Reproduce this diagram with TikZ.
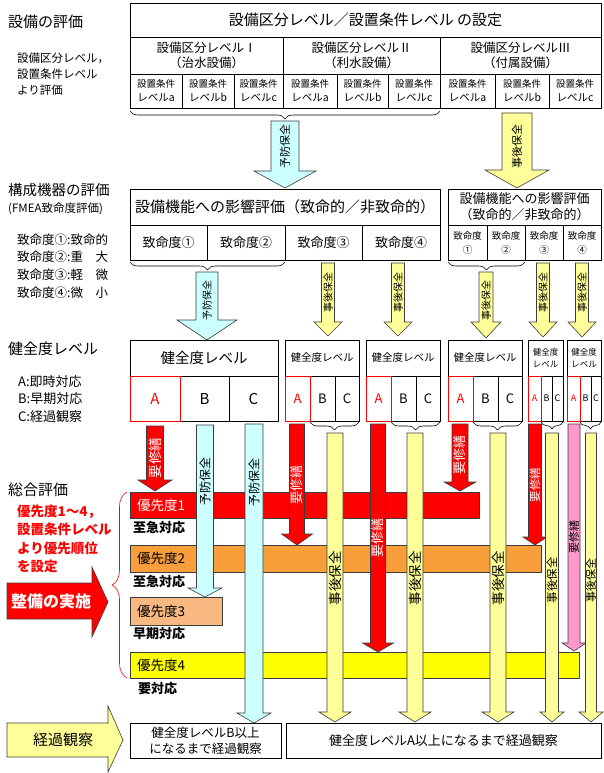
\documentclass[tikz,border=0pt]{standalone}
\usepackage{fontspec}
\setmainfont{Noto Sans CJK JP}
\usetikzlibrary{decorations.pathreplacing}
\definecolor{cyanL}{RGB}{204,255,255}
\definecolor{yelL}{RGB}{255,255,153}
\definecolor{redA}{RGB}{255,0,0}
\definecolor{orgB}{RGB}{248,158,58}
\definecolor{salC}{RGB}{247,184,130}
\definecolor{yelD}{RGB}{255,255,0}
\definecolor{pinkE}{RGB}{255,153,204}
\definecolor{edgeC}{RGB}{60,60,60}
\newcommand\fsz[2]{\fontsize{#1}{#2}\selectfont}
% #1 name, #2 style, #3 cx, #4 top, #5 head start, #6 tip, #7 half shaft, #8 half head
\newcommand\DArrow[8]{%
  \draw[#2] (#3-#7,#4) -- (#3+#7,#4) -- (#3+#7,#5) -- (#3+#8,#5) -- (#3,#6)
    -- (#3-#8,#5) -- (#3-#7,#5) -- cycle;
  \coordinate (#1) at (#3,#6);}
% [opts]{name}{x1}{y1}{x2}{y2}{text}
\newcommand\cell[7][]{%
  \node[cellst,#1,minimum width={#5-#3},minimum height={#6-#4}] (#2)
    at ({(#3+#5)/2},{(#4+#6)/2}) {#7};}
\begin{document}
\begin{tikzpicture}[x=1pt,y=-1pt,
  cellst/.style={draw=black,line width=0.6pt,inner sep=0pt,outer sep=0pt,align=center,fill=white},
  lab/.style={anchor=west,inner sep=0pt,align=left},
  vlab/.style={rotate=90,inner sep=0pt},
  brc/.style={draw=black,line width=0.6pt,decorate,decoration={brace,amplitude=8pt,mirror}},
  cyst/.style={fill=cyanL,draw=edgeC,line width=0.6pt},
  yest/.style={fill=yelL,draw=edgeC,line width=0.6pt},
  redst/.style={fill=redA,draw=edgeC,line width=0.6pt},
  pkst/.style={fill=pinkE,draw=edgeC,line width=0.6pt},
  barst/.style={draw=edgeC,line width=0.6pt}]
\useasboundingbox (0,0) rectangle (603,773);

% ---------- left labels ----------
\node[lab,font=\fsz{15}{18}] (L1) at (8,22) {設備の評価};
\node[lab,font=\fsz{11.5}{16}] (L1a) at (17,74) {設備区分レベル，\\設置条件レベル\\より評価};
\node[lab,font=\fsz{14.5}{17}] (L2) at (8,190) {構成機器の評価};
\node[lab,font=\fsz{11.5}{14}] (L2a) at (8,209) {(FMEA致命度評価)};
\node[lab,font=\fsz{12.5}{15}] (L2b) at (17,240) {致命度①:致命的};
\node[lab,font=\fsz{12.5}{15}] (L2c) at (17,257) {致命度②:重　大};
\node[lab,font=\fsz{12.5}{15}] (L2d) at (17,275) {致命度③:軽　微};
\node[lab,font=\fsz{12.5}{15}] (L2e) at (17,293) {致命度④:微　小};
\node[lab,font=\fsz{15}{18}] (L3) at (8,349) {健全度レベル};
\node[lab,font=\fsz{13}{15}] (L3a) at (18,382) {A:即時対応};
\node[lab,font=\fsz{13}{15}] (L3b) at (18,399) {B:早期対応};
\node[lab,font=\fsz{13}{15}] (L3c) at (18,417) {C:経過観察};
\node[lab,font=\fsz{15}{18}] (L4) at (8,490) {総合評価};
\node[lab,font=\bfseries\fsz{13.5}{18.5},text=redA] (L4a) at (17,539) {優先度1～4，\\設置条件レベル\\より優先順位\\を設定};

% ---------- top table ----------
\cell[font=\fsz{15}{18}]{T0}{130}{3}{601}{37}{設備区分レベル／設置条件レベル\ の設定}
\cell[font=\fsz{12.5}{15.5}]{T1}{130}{37}{283}{74}{設備区分レベルⅠ\\（治水設備）}
\cell[font=\fsz{12.5}{15.5}]{T2}{283}{37}{440}{74}{設備区分レベルⅡ\\（利水設備）}
\cell[font=\fsz{12.5}{15.5}]{T3}{440}{37}{601}{74}{設備区分レベルⅢ\\（付属設備）}
\cell[font=\fsz{10.5}{14}]{S1}{130}{74}{182}{108}{{\fsz{9.5}{14}設置条件}\\レベルa}
\cell[font=\fsz{10.5}{14}]{S2}{182}{74}{234}{108}{{\fsz{9.5}{14}設置条件}\\レベルb}
\cell[font=\fsz{10.5}{14}]{S3}{234}{74}{283}{108}{{\fsz{9.5}{14}設置条件}\\レベルc}
\cell[font=\fsz{10.5}{14}]{S4}{283}{74}{337}{108}{{\fsz{9.5}{14}設置条件}\\レベルa}
\cell[font=\fsz{10.5}{14}]{S5}{337}{74}{388}{108}{{\fsz{9.5}{14}設置条件}\\レベルb}
\cell[font=\fsz{10.5}{14}]{S6}{388}{74}{440}{108}{{\fsz{9.5}{14}設置条件}\\レベルc}
\cell[font=\fsz{10.5}{14}]{S7}{440}{74}{495}{108}{{\fsz{9.5}{14}設置条件}\\レベルa}
\cell[font=\fsz{10.5}{14}]{S8}{495}{74}{549}{108}{{\fsz{9.5}{14}設置条件}\\レベルb}
\cell[font=\fsz{10.5}{14}]{S9}{549}{74}{601}{108}{{\fsz{9.5}{14}設置条件}\\レベルc}
\draw[brc] (S1.south west) ++(0,3) coordinate (br1a) -- (S6.south east |- br1a);

\DArrow{A1}{cyst}{285}{121}{171}{188}{14}{31}
\node[vlab,font=\fsz{11}{12}] (A1t) at (285,146) {予防保全};
\DArrow{A2}{yest}{517}{113}{170}{188}{15}{32}
\node[vlab,font=\fsz{11}{12}] (A2t) at (517,146) {事後保全};

% ---------- FMEA table ----------
\cell[font=\fsz{15}{18}]{M0}{130}{189}{440}{225}{設備機能への影響評価（致命的／非致命的）}
\cell[font=\fsz{13}{15}]{M1}{130}{225}{207}{260}{致命度①}
\cell[font=\fsz{13}{15}]{M2}{207}{225}{285}{260}{致命度②}
\cell[font=\fsz{13}{15}]{M3}{285}{225}{362}{260}{致命度③}
\cell[font=\fsz{13}{15}]{M4}{362}{225}{440}{260}{致命度④}
\cell[font=\fsz{13}{16}]{N0}{448}{189}{601}{225}{設備機能への影響評価\\（致命的／非致命的）}
\cell[font=\fsz{9.5}{14}]{N1}{448}{225}{487}{260}{致命度\\①}
\cell[font=\fsz{9.5}{14}]{N2}{487}{225}{525}{260}{致命度\\②}
\cell[font=\fsz{9.5}{14}]{N3}{525}{225}{563}{260}{致命度\\③}
\cell[font=\fsz{9.5}{14}]{N4}{563}{225}{601}{260}{致命度\\④}
\draw[brc] (130,262) -- (285,262);
\draw[brc] (448,262) -- (525,262);

\DArrow{A3}{cyst}{207}{272}{320}{340}{11}{30}
\node[vlab,font=\fsz{10}{11}] (A3t) at (207,300) {予防保全};
\DArrow{A4}{yest}{328}{263}{322}{336}{6.5}{14}
\node[vlab,font=\fsz{10}{11}] (A4t) at (328,292) {事後保全};
\DArrow{A5}{yest}{398}{263}{322}{336}{6.5}{14}
\node[vlab,font=\fsz{10}{11}] (A5t) at (398,292) {事後保全};
\DArrow{A6}{yest}{486}{272}{322}{338}{7}{15}
\node[vlab,font=\fsz{10}{11}] (A6t) at (486,300) {事後保全};
\DArrow{A7}{yest}{543}{263}{322}{337}{6.5}{14}
\node[vlab,font=\fsz{10}{11}] (A7t) at (543,292) {事後保全};
\DArrow{A8}{yest}{582}{263}{322}{337}{6.5}{14}
\node[vlab,font=\fsz{10}{11}] (A8t) at (582,292) {事後保全};

% ---------- health level boxes ----------
\cell[font=\fsz{14.5}{17}]{H1}{130}{340}{278}{376}{健全度レベル}
\cell[font=\fsz{15}{17}]{H1b}{180}{376}{229}{421}{B}
\cell[font=\fsz{15}{17}]{H1c}{229}{376}{278}{421}{C}
\cell[font=\fsz{15}{17},draw=redA,text=redA]{H1a}{130}{376}{180}{421}{A}

\cell[font=\fsz{10.5}{13}]{H2}{285}{340}{359}{376}{健全度レベル}
\cell[font=\fsz{13}{15}]{H2b}{310}{376}{335}{421}{B}
\cell[font=\fsz{13}{15}]{H2c}{335}{376}{359}{421}{C}
\cell[font=\fsz{13}{15},draw=redA,text=redA]{H2a}{285}{376}{310}{421}{A}

\cell[font=\fsz{10.5}{13}]{H3}{366}{340}{440}{376}{健全度レベル}
\cell[font=\fsz{13}{15}]{H3b}{391}{376}{416}{421}{B}
\cell[font=\fsz{13}{15}]{H3c}{416}{376}{440}{421}{C}
\cell[font=\fsz{13}{15},draw=redA,text=redA]{H3a}{366}{376}{391}{421}{A}

\cell[font=\fsz{10.5}{13}]{H4}{448}{340}{522}{376}{健全度レベル}
\cell[font=\fsz{13}{15}]{H4b}{473}{376}{498}{421}{B}
\cell[font=\fsz{13}{15}]{H4c}{498}{376}{522}{421}{C}
\cell[font=\fsz{13}{15},draw=redA,text=redA]{H4a}{448}{376}{473}{421}{A}

\cell[font=\fsz{8.5}{11.5}]{H5}{528}{340}{563}{376}{健全度\\レベル}
\cell[font=\fsz{9}{11}]{H5b}{541}{376}{552}{421}{B}
\cell[font=\fsz{9}{11}]{H5c}{552}{376}{563}{421}{C}
\cell[font=\fsz{9}{11},draw=redA,text=redA]{H5a}{528}{376}{541}{421}{A}

\cell[font=\fsz{8.5}{11.5}]{H6}{567}{340}{601}{376}{健全度\\レベル}
\cell[font=\fsz{9}{11}]{H6b}{580}{376}{591}{421}{B}
\cell[font=\fsz{9}{11}]{H6c}{591}{376}{601}{421}{C}
\cell[font=\fsz{9}{11},draw=redA,text=redA]{H6a}{567}{376}{580}{421}{A}

\draw[brc] (310,422) -- (359,422);
\draw[brc] (391,422) -- (440,422);
\draw[brc] (473,422) -- (522,422);
\draw[brc,decoration={brace,amplitude=7pt,mirror}] (541,422) -- (563,422);
\draw[brc,decoration={brace,amplitude=7pt,mirror}] (580,422) -- (601,422);

% ---------- priority bars ----------
\draw[barst,fill=redA] (130,492) rectangle (479,518);
\node[lab,font=\fsz{13.5}{15},text=white] (P1) at (137,505) {優先度1};
\draw[barst,fill=orgB] (130,545) rectangle (541,572);
\node[lab,font=\fsz{13.5}{15}] (P2) at (137,558) {優先度2};
\draw[barst,fill=salC] (130,597) rectangle (222,625);
\node[lab,font=\fsz{13.5}{15}] (P3) at (137,611) {優先度3};
\draw[barst,fill=yelD] (130,652) rectangle (579,678);
\node[lab,font=\fsz{13.5}{15}] (P4) at (137,665) {優先度4};
\node[lab,font=\bfseries\fsz{13}{15}] (Q1) at (133,528) {至急対応};
\node[lab,font=\bfseries\fsz{13}{15}] (Q2) at (133,582) {至急対応};
\node[lab,font=\bfseries\fsz{13}{15}] (Q3) at (133,634) {早期対応};
\node[lab,font=\bfseries\fsz{13}{15}] (Q4) at (138,689) {要対応};

% ---------- vertical bars ----------
\DArrow{V1}{redst}{155}{426}{480}{491}{8.5}{17}
\node[vlab,font=\fsz{13.5}{14},text=white] (V1t) at (155,458) {要修繕};
\DArrow{V2}{cyst}{205}{425}{588}{597}{8.5}{17}
\node[vlab,font=\fsz{12}{13}] (V2t) at (205,481) {予防保全};
\DArrow{V3}{cyst}{254}{424}{713}{723}{9}{17}
\node[vlab,font=\fsz{12}{13}] (V3t) at (254,482) {予防保全};
\DArrow{V4}{redst}{297}{424}{534}{545}{7.5}{15.5}
\node[vlab,font=\fsz{13}{14},text=white] (V4t) at (297,485) {要修繕};
\DArrow{V5}{yest}{335}{433}{712}{722}{8}{16}
\node[vlab,font=\fsz{13.5}{14}] (V5t) at (335,578) {事後保全};
\DArrow{V6}{redst}{378}{424}{643}{652}{7.5}{15.5}
\node[vlab,font=\fsz{13}{14},text=white] (V6t) at (378,538) {要修繕};
\DArrow{V7}{yest}{415}{433}{712}{722}{8}{16}
\node[vlab,font=\fsz{13.5}{14}] (V7t) at (415,578) {事後保全};
\DArrow{V8}{redst}{460}{424}{482}{491}{8}{16}
\node[vlab,font=\fsz{13}{14},text=white] (V8t) at (460,455) {要修繕};
\DArrow{V9}{yest}{498}{433}{712}{722}{8}{16}
\node[vlab,font=\fsz{13.5}{14}] (V9t) at (498,578) {事後保全};
\DArrow{V10}{redst}{535}{424}{537}{545}{6.5}{12}
\node[vlab,font=\fsz{11.5}{12},text=white] (V10t) at (535,485) {要修繕};
\DArrow{V11}{yest}{552}{433}{712}{722}{6.5}{12}
\node[vlab,font=\fsz{11.5}{12}] (V11t) at (552,580) {事後保全};
\DArrow{V12}{pkst}{574}{424}{643}{651}{6}{12}
\node[vlab,font=\fsz{11}{12}] (V12t) at (574,537) {要修繕};
\DArrow{V13}{yest}{591}{433}{712}{722}{5.5}{12}
\node[vlab,font=\fsz{11}{12}] (V13t) at (591,580) {事後保全};

% ---------- big left arrows and brace ----------
\draw[fill=redA,draw=edgeC,line width=0.6pt] (7,583) -- (92,583) -- (92,567) -- (108,602) -- (92,637) -- (92,619) -- (7,619) -- cycle;
\node[font=\bfseries\fsz{16}{18},text=white,inner sep=0pt] (R1) at (51,601) {整備の実施};
\draw[redA,line width=0.6pt,decorate,decoration={brace,amplitude=15pt}] (127,678) -- (127,492);

\draw[fill=yelL,draw=edgeC,line width=0.6pt] (7,723) -- (108,723) -- (108,706) -- (123,740) -- (108,772) -- (108,757) -- (7,757) -- cycle;
\node[font=\fsz{15}{17},inner sep=0pt] (Y1) at (63,740) {経過観察};

\cell[font=\fsz{12.5}{16}]{B1}{130}{723}{281}{758}{健全度レベルB以上\\になるまで経過観察}
\cell[font=\fsz{13}{15}]{B2}{286}{723}{601}{758}{健全度レベルA以上になるまで経過観察}
\end{tikzpicture}
\end{document}
